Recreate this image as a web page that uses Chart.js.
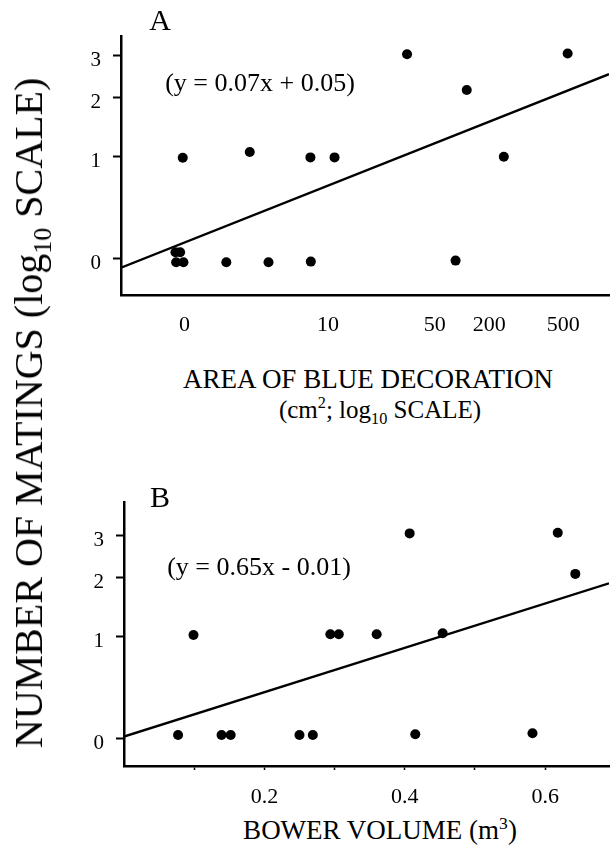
<!DOCTYPE html>
<html>
<head>
<meta charset="utf-8">
<script src="https://cdn.jsdelivr.net/npm/chart.js@4.4.1/dist/chart.umd.min.js"></script>
<style>
html, body { margin: 0; padding: 0; background: #fff; }
#page { position: relative; width: 614px; height: 856px; overflow: hidden;
        font-family: "Liberation Serif", "Times New Roman", serif; color: #000; }
.t { position: absolute; transform: translate(-50%, -50%); white-space: nowrap; line-height: 1; }
.rot { transform: translate(-50%, -50%) rotate(-90deg); }
canvas { position: absolute; left: 0; }
sub, sup { font-size: 65%; line-height: 0; }
</style>
</head>
<body>
<div id="page">
  <canvas id="chartA" style="top:0"></canvas>
  <canvas id="chartB" style="top:470px"></canvas>

  <div class="t" style="left:160px;top:20px;font-size:30px">A</div>
  <div class="t" style="left:260px;top:83px;font-size:26px">(y = 0.07x + 0.05)</div>
  <div class="t" style="left:368px;top:379px;font-size:27px">AREA OF BLUE DECORATION</div>
  <div class="t" style="left:380px;top:409px;font-size:25px">(cm<sup>2</sup>; log<sub>10</sub> SCALE)</div>

  <div class="t" style="left:160px;top:497px;font-size:30px">B</div>
  <div class="t" style="left:259px;top:567px;font-size:26px">(y = 0.65x - 0.01)</div>
  <div class="t" style="left:380px;top:830px;font-size:27px">BOWER VOLUME (m<sup>3</sup>)</div>

  <div class="t rot" style="left:29px;top:413px;font-size:40px">NUMBER OF MATINGS (log<sub>10</sub> SCALE)</div>
</div>

<script>
// y axis: log10(matings + 1), labelled with the raw number of matings
const yTickPos = [0, 0.301, 0.477, 0.602];
const yTickLabels = ['0', '1', '2', '3'];

// panel A: area of blue decoration (log axis position)
const aTickPos = [0, 1.041, 1.816, 2.211, 2.749];
const aTickLabels = ['0', '10', '50', '200', '500'];
const aArea = [-0.065, -0.031, -0.060, -0.007, 0.304, 0.610, 0.917, 1.967,
               -0.012, 0.474, 0.914, 1.089, 2.317, 1.615, 2.048, 2.780];
const aMatings = [0.018, 0.018, -0.012, -0.012, -0.012, -0.012, -0.010, -0.007,
                  0.298, 0.315, 0.299, 0.299, 0.301, 0.605, 0.499, 0.607];
const aFitX = [-0.46, 3.08];
const aFitY = [-0.028, 0.546];

// panel B: bower volume (m3)
const bTickPos = [0.1, 0.2, 0.3, 0.4, 0.5, 0.6];
const bTickLabels = ['', '0.2', '', '0.4', '', '0.6'];
const bVolume = [0.077, 0.139, 0.152, 0.250, 0.269, 0.415, 0.582,
                 0.099, 0.294, 0.306, 0.360, 0.454, 0.407, 0.618, 0.643];
const bMatings = [0.010, 0.010, 0.010, 0.010, 0.010, 0.012, 0.015,
                  0.306, 0.308, 0.308, 0.308, 0.311, 0.607, 0.609, 0.487];
const bFitX = [0, 0.691];
const bFitY = [0.005, 0.459];

const FONT = '"Liberation Serif", "Times New Roman", serif';

function pairs(xs, ys) {
    return xs.map((x, i) => ({ x, y: ys[i] }));
}

function makePanel(id, p) {
    const canvas = document.getElementById(id);
    canvas.width = 614;
    canvas.height = p.height;
    canvas.style.width = '614px';
    canvas.style.height = p.height + 'px';

    return new Chart(canvas.getContext('2d'), {
        type: 'scatter',
        data: {
            datasets: [
                {
                    data: pairs(p.xs, p.ys),
                    backgroundColor: '#000',
                    borderWidth: 0,
                    pointRadius: 5,
                },
                {
                    type: 'line',
                    data: pairs(p.fitX, p.fitY),
                    borderColor: '#000',
                    borderWidth: 2.4,
                    pointRadius: 0,
                    fill: false,
                },
            ],
        },
        options: {
            responsive: false,
            animation: false,
            events: [],
            layout: { padding: { top: p.top, right: 0, left: 0, bottom: 0 } },
            plugins: { legend: { display: false }, tooltip: { enabled: false } },
            scales: {
                x: {
                    type: 'linear',
                    min: p.xMin,
                    max: p.xMax,
                    afterBuildTicks: (s) => { s.ticks = p.xTicks.map(v => ({ value: v })); },
                    afterFit: (s) => { s.height = p.height - p.bottom; },
                    ticks: {
                        autoSkip: false,
                        maxRotation: 0,
                        padding: p.xPad,
                        color: '#000',
                        font: { family: FONT, size: 22 },
                        callback: (v, i) => p.xLabels[i],
                    },
                    grid: {
                        display: p.xTickLen > 0,
                        drawOnChartArea: false,
                        drawTicks: p.xTickLen > 0,
                        tickLength: p.xTickLen,
                        tickWidth: 1.5,
                        color: '#000',
                    },
                    border: { display: true, color: '#000', width: 2.5 },
                },
                y: {
                    type: 'linear',
                    min: p.yMin,
                    max: p.yMax,
                    afterBuildTicks: (s) => { s.ticks = yTickPos.map(v => ({ value: v })); },
                    afterFit: (s) => { s.width = p.left; },
                    ticks: {
                        padding: 12,
                        labelOffset: 5,
                        color: '#000',
                        font: { family: FONT, size: 21 },
                        callback: (v, i) => yTickLabels[i],
                    },
                    grid: {
                        drawOnChartArea: false,
                        tickLength: 8,
                        tickWidth: 2,
                        color: '#000',
                    },
                    border: { display: true, color: '#000', width: 2.5 },
                },
            },
        },
    });
}

makePanel('chartA', {
    height: 345, top: 36, bottom: 295, left: 121,
    xMin: -0.46, xMax: 3.08, yMin: -0.109, yMax: 0.659,
    xTicks: aTickPos, xLabels: aTickLabels, xTickLen: 0, xPad: 17,
    xs: aArea, ys: aMatings, fitX: aFitX, fitY: aFitY,
});

makePanel('chartB', {
    height: 340, top: 32, bottom: 296, left: 124,
    xMin: 0, xMax: 0.691, yMin: -0.082, yMax: 0.700,
    xTicks: bTickPos, xLabels: bTickLabels, xTickLen: 4, xPad: 14,
    xs: bVolume, ys: bMatings, fitX: bFitX, fitY: bFitY,
});
</script>
</body>
</html>
